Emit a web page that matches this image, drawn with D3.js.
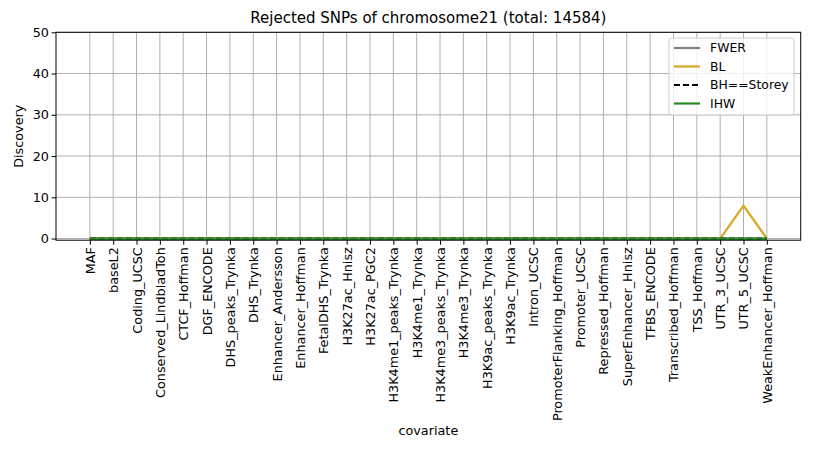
<!DOCTYPE html>
<html><head><meta charset="utf-8">
<script src="https://cdn.jsdelivr.net/npm/d3@7"></script>
<style>body{margin:0;background:#fff}svg{font-family:"DejaVu Sans",sans-serif}</style>
</head><body><svg id="c" width="814" height="452"></svg>
<script>
const categories = ["MAF","baseL2","Coding_UCSC","Conserved_LindbladToh","CTCF_Hoffman","DGF_ENCODE","DHS_peaks_Trynka","DHS_Trynka","Enhancer_Andersson","Enhancer_Hoffman","FetalDHS_Trynka","H3K27ac_Hnisz","H3K27ac_PGC2","H3K4me1_peaks_Trynka","H3K4me1_Trynka","H3K4me3_peaks_Trynka","H3K4me3_Trynka","H3K9ac_peaks_Trynka","H3K9ac_Trynka","Intron_UCSC","PromoterFlanking_Hoffman","Promoter_UCSC","Repressed_Hoffman","SuperEnhancer_Hnisz","TFBS_ENCODE","Transcribed_Hoffman","TSS_Hoffman","UTR_3_UCSC","UTR_5_UCSC","WeakEnhancer_Hoffman"];
const FWER = [0,0,0,0,0,0,0,0,0,0,0,0,0,0,0,0,0,0,0,0,0,0,0,0,0,0,0,0,0,0];
const BL   = [0,0,0,0,0,0,0,0,0,0,0,0,0,0,0,0,0,0,0,0,0,0,0,0,0,0,0,0,8,0];
const BH   = [0,0,0,0,0,0,0,0,0,0,0,0,0,0,0,0,0,0,0,0,0,0,0,0,0,0,0,0,0,0];
const IHW  = [0,0,0,0,0,0,0,0,0,0,0,0,0,0,0,0,0,0,0,0,0,0,0,0,0,0,0,0,0,0];
const yTicks = [0,10,20,30,40,50];
const seriesNames = ["FWER","BL","BH==Storey","IHW"];
const seriesData = [FWER, BL, BH, IHW];
const seriesColors = ["#808080","#daa520","#000000","#228b22"];
const seriesDash = [null,null,"6,3",null];

const svg = d3.select("#c");
const L=56, R=800.7, T=32.3, B=240.2;
const n = categories.length;
const x = d3.scaleLinear().domain([-(n-1)*0.05, (n-1)*1.05]).range([L,R]);
const y = d3.scaleLinear().domain([-0.4, 50]).range([B,T]);
const fs = 12.8;

// grid
const g = svg.append("g");
g.selectAll(".vg").data(categories).enter().append("line")
  .attr("x1",(d,i)=>x(i)).attr("x2",(d,i)=>x(i)).attr("y1",T).attr("y2",B)
  .attr("stroke","#b0b0b0").attr("stroke-width",1);
g.selectAll(".hg").data(yTicks).enter().append("line")
  .attr("x1",L).attr("x2",R).attr("y1",d=>y(d)).attr("y2",d=>y(d))
  .attr("stroke","#b0b0b0").attr("stroke-width",1);

// lines
const line = d3.line().x((d,i)=>x(i)).y(d=>y(d));
seriesData.forEach((s,k)=>{
  svg.append("path").datum(s).attr("d",line).attr("fill","none")
    .attr("stroke",seriesColors[k]).attr("stroke-width",2.2)
    .attr("stroke-dasharray",seriesDash[k]);
});

// axes
const xAxis = svg.append("g").attr("transform",`translate(0,${B})`)
  .call(d3.axisBottom(x).tickValues(d3.range(n)).tickFormat(i=>categories[i]).tickSize(4.5).tickSizeOuter(0));
xAxis.select(".domain").remove();
xAxis.selectAll("text").attr("font-size",fs).attr("font-family","DejaVu Sans").attr("fill","#000")
  .attr("transform","rotate(-90)").attr("text-anchor","end").attr("x",-7).attr("y",0).attr("dy","0.35em");
xAxis.selectAll("line").attr("stroke","#000").attr("stroke-width",1);

const yAxis = svg.append("g").attr("transform",`translate(${L},0)`)
  .call(d3.axisLeft(y).tickValues(yTicks).tickSize(4.5).tickSizeOuter(0));
yAxis.select(".domain").remove();
yAxis.selectAll("text").attr("font-size",fs).attr("font-family","DejaVu Sans").attr("fill","#000").attr("x",-7);
yAxis.selectAll("line").attr("stroke","#000");

// frame
svg.append("rect").attr("x",L).attr("y",T).attr("width",R-L).attr("height",B-T)
  .attr("fill","none").attr("stroke","#000").attr("stroke-width",1);

// title & labels
svg.append("text").attr("x",(L+R)/2).attr("y",23).attr("text-anchor","middle")
  .attr("font-size",15).text("Rejected SNPs of chromosome21 (total: 14584)");
svg.append("text").attr("x",(L+R)/2).attr("y",435).attr("text-anchor","middle")
  .attr("font-size",fs).text("covariate");
svg.append("text").attr("transform",`translate(23,${(T+B)/2}) rotate(-90)`).attr("text-anchor","middle")
  .attr("font-size",fs).text("Discovery");

// legend
const lg = svg.append("g");
lg.append("rect").attr("x",669).attr("y",38).attr("width",125).attr("height",77).attr("rx",3)
  .attr("fill","#fff").attr("fill-opacity",0.8).attr("stroke","#cccccc");
seriesNames.forEach((nm,k)=>{
  const yy = 48 + k*18.5;
  lg.append("line").attr("x1",674).attr("x2",700).attr("y1",yy).attr("y2",yy)
    .attr("stroke",seriesColors[k]).attr("stroke-width",2.2).attr("stroke-dasharray",seriesDash[k]);
  lg.append("text").attr("x",710).attr("y",yy).attr("dy","0.35em").attr("font-size",12.4).text(nm);
});
</script></body></html>
